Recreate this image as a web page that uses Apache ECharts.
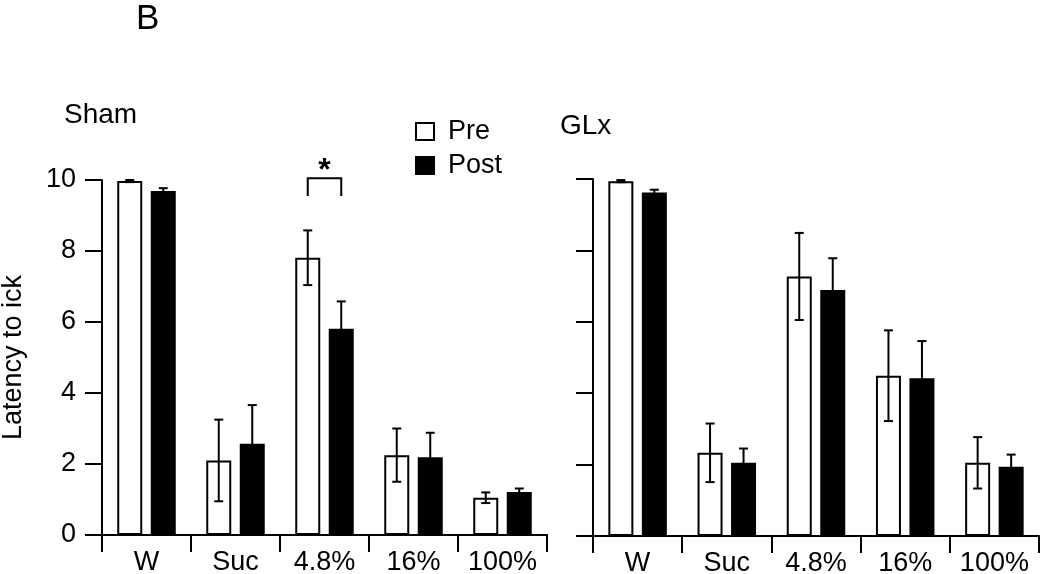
<!DOCTYPE html>
<html><head><meta charset="utf-8">
<script src="https://cdn.jsdelivr.net/npm/echarts@6/dist/echarts.min.js"></script>
<style>html,body{margin:0;padding:0;background:#fff}#c{width:1050px;height:574px}</style>
</head><body><div id="c"></div>
<script>
var categories = ['W', 'Suc', '4.8%', '16%', '100%'];
var yTicks = [0, 2, 4, 6, 8, 10];
var shamPre = [9.97, 2.10, 7.81, 2.25, 1.05];
var shamPreErr = [0.03, 1.15, 0.77, 0.75, 0.15];
var shamPost = [9.69, 2.57, 5.81, 2.19, 1.21];
var shamPostErr = [0.08, 1.09, 0.77, 0.69, 0.10];
var glxPre = [9.94, 2.33, 7.27, 4.49, 2.05];
var glxPreErr = [0.03, 0.82, 1.22, 1.27, 0.72];
var glxPost = [9.62, 2.05, 6.89, 4.42, 1.94];
var glxPostErr = [0.08, 0.40, 0.89, 1.04, 0.34];
var sigCategory = 2, sigTop = 10.05, sigLeg = 9.55, sigStar = 10.25;

var FONT = '"Liberation Sans", Arial, sans-serif';
var BAR_W = 25, GAP = 8.5, OFF = (BAR_W + GAP) / 2;

function errData(vals, errs) { return vals.map(function (v, i) { return [i, v, errs[i]]; }); }
function errSeries(idx, vals, errs, sign) {
  return {
    type: 'custom', xAxisIndex: idx, yAxisIndex: idx, z: 5,
    data: errData(vals, errs),
    renderItem: function (params, api) {
      var ci = api.value(0), v = api.value(1), e = api.value(2);
      var t = api.coord([ci, v + e]), b = api.coord([ci, v - e]);
      var x = t[0] + sign * OFF, cap = 4.5;
      var st = { stroke: '#000', lineWidth: 2, fill: null };
      return { type: 'group', children: [
        { type: 'line', shape: { x1: x, y1: t[1], x2: x, y2: b[1] }, style: st },
        { type: 'line', shape: { x1: x - cap, y1: t[1], x2: x + cap, y2: t[1] }, style: st },
        { type: 'line', shape: { x1: x - cap, y1: b[1], x2: x + cap, y2: b[1] }, style: st }
      ]};
    }
  };
}
function barSeries(name, idx, vals, fill) {
  return {
    name: name, type: 'bar', xAxisIndex: idx, yAxisIndex: idx, data: vals,
    barWidth: BAR_W, barGap: (GAP / BAR_W * 100) + '%',
    itemStyle: { color: fill, borderColor: '#000', borderWidth: 2 },
    emphasis: { disabled: true }
  };
}
function xAx(idx) {
  return {
    type: 'category', gridIndex: idx, data: categories,
    axisLine: { lineStyle: { color: '#000', width: 2 } },
    axisTick: { show: true, length: 17, interval: 0, lineStyle: { color: '#000', width: 2 } },
    axisLabel: { color: '#000', fontSize: 27, fontFamily: FONT, margin: 14, interval: 0, hideOverlap: false }
  };
}
function yAx(idx, showLabels) {
  var o = {
    type: 'value', gridIndex: idx, min: 0, max: 10, interval: 2,
    axisLine: { show: true, lineStyle: { color: '#000', width: 2 } },
    axisTick: { show: true, length: 17, lineStyle: { color: '#000', width: 2 } },
    axisLabel: { show: showLabels, color: '#000', fontSize: 27, fontFamily: FONT, margin: 26,
      formatter: function (v) { return yTicks.indexOf(v) >= 0 ? String(v) : ''; } },
    splitLine: { show: false }
  };
  if (showLabels) {
    o.name = 'Latency to ick'; o.nameLocation = 'middle'; o.nameGap = 75; o.nameRotate = 90;
    o.nameTextStyle = { color: '#000', fontSize: 27, fontFamily: FONT };
  }
  return o;
}

var chart = echarts.init(document.getElementById('c'), null, { renderer: 'canvas' });
chart.setOption({
  animation: false,
  backgroundColor: '#fff',
  grid: [
    { left: 102, top: 180, width: 445, height: 355, containLabel: false, outerBoundsMode: 'none' },
    { left: 593, top: 179, width: 446, height: 357, containLabel: false, outerBoundsMode: 'none' }
  ],
  xAxis: [xAx(0), xAx(1)],
  yAxis: [yAx(0, true), yAx(1, false)],
  legend: {
    data: ['Pre', 'Post'], orient: 'vertical', left: 410, top: 113, itemGap: 7,
    icon: 'rect', itemWidth: 18, itemHeight: 17,
    textStyle: { color: '#000', fontSize: 27, fontFamily: FONT, padding: [0, 0, 0, 9] },
    selectedMode: false
  },
  graphic: [
    { type: 'text', left: 136, top: 2, style: { text: 'B', fontSize: 35, fontFamily: FONT, fill: '#000' } },
    { type: 'text', left: 64, top: 101, style: { text: 'Sham', fontSize: 28, fontFamily: FONT, fill: '#000' } },
    { type: 'text', left: 560, top: 112, style: { text: 'GLx', fontSize: 28, fontFamily: FONT, fill: '#000' } }
  ],
  series: [
    barSeries('Pre', 0, shamPre, '#fff'),
    barSeries('Post', 0, shamPost, '#000'),
    barSeries('Pre', 1, glxPre, '#fff'),
    barSeries('Post', 1, glxPost, '#000'),
    errSeries(0, shamPre, shamPreErr, -1),
    errSeries(0, shamPost, shamPostErr, 1),
    errSeries(1, glxPre, glxPreErr, -1),
    errSeries(1, glxPost, glxPostErr, 1),
    {
      type: 'custom', xAxisIndex: 0, yAxisIndex: 0, z: 6,
      data: [[sigCategory, sigTop, sigLeg, sigStar]],
      renderItem: function (params, api) {
        var c = api.value(0);
        var t = api.coord([c, api.value(1)]), l = api.coord([c, api.value(2)]), s = api.coord([c, api.value(3)]);
        var x1 = t[0] - OFF, x2 = t[0] + OFF;
        return { type: 'group', children: [
          { type: 'polyline', shape: { points: [[x1, l[1]], [x1, t[1]], [x2, t[1]], [x2, l[1]]] },
            style: { stroke: '#000', lineWidth: 2, fill: null } },
          { type: 'text', x: t[0], y: s[1], style: { text: '*', fontSize: 32, fontWeight: 'bold', fontFamily: FONT,
            fill: '#000', align: 'center', verticalAlign: 'middle' } }
        ]};
      }
    }
  ]
});
</script></body></html>
